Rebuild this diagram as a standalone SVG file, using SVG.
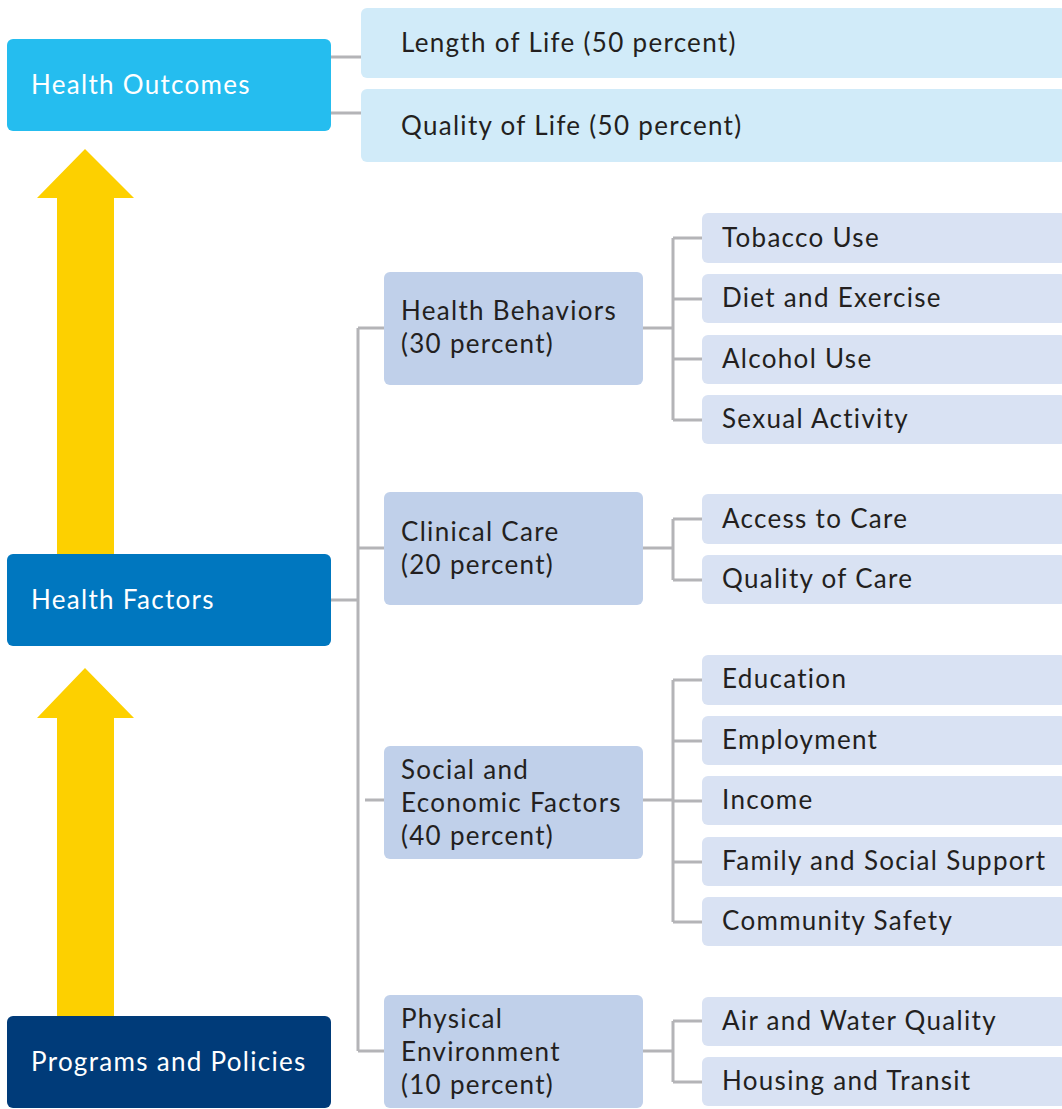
<svg xmlns="http://www.w3.org/2000/svg" width="1062" height="1109" viewBox="0 0 1062 1109">
<style>
text{font-family:Lato,"Open Sans","Liberation Sans",sans-serif;font-size:26px;letter-spacing:1.3px;fill:#231F20}
.w{fill:#ffffff}
.c{fill:none;stroke:#B4B4B7;stroke-width:3}
.top{fill:#D1EBF9}
.mid{fill:#C0D0EA}
.leaf{fill:#D9E2F3}
.arr{fill:#FDD000}
</style>
<rect width="1062" height="1109" fill="#ffffff"/>
<g id="arrows">
<polygon class="arr" points="85,149 134,198 114,198 114,554 57,554 57,198 37,198"/>
<polygon class="arr" points="85,668 134,718 114,718 114,1016 57,1016 57,718 37,718"/>
</g>
<g id="connectors">
<path class="c" d="M331,57H361M331,113H361"/>
<path class="c" d="M331,600H358M358,328V1051M358,328H384M358,548H384M365,800H384M358,1051H384"/>
<path class="c" d="M643,328H673M673,238V420M673,238H702M673,299H702M673,359H702M673,420H702"/>
<path class="c" d="M643,548H673M673,519V580M673,519H702M673,580H702"/>
<path class="c" d="M643,800H673M673,680V922M673,680H702M673,741H702M673,801H702M673,862H702M673,922H702"/>
<path class="c" d="M643,1051H673M673,1021V1082M673,1021H702M673,1082H702"/>
</g>
<g id="health-outcomes"><rect x="7" y="39" width="324" height="92" rx="6" fill="#25BDEF"/><text class="w" x="31" y="94">Health Outcomes</text></g>
<g id="health-factors"><rect x="7" y="554" width="324" height="92" rx="6" fill="#0077BF"/><text class="w" x="31" y="609">Health Factors</text></g>
<g id="programs-policies"><rect x="7" y="1016" width="324" height="92" rx="6" fill="#003B79"/><text class="w" x="31" y="1071">Programs and Policies</text></g>
<g id="length-of-life"><rect class="top" x="361" y="8" width="705" height="70" rx="6"/><text x="401" y="52">Length of Life (50 percent)</text></g>
<g id="quality-of-life"><rect class="top" x="361" y="89" width="705" height="73" rx="6"/><text x="401" y="135">Quality of Life (50 percent)</text></g>
<g id="health-behaviors"><rect class="mid" x="384" y="272" width="259" height="113" rx="6"/><text x="401" y="320">Health Behaviors</text><text x="401" y="353">(30 percent)</text></g>
<g id="clinical-care"><rect class="mid" x="384" y="492" width="259" height="113" rx="6"/><text x="401" y="541">Clinical Care</text><text x="401" y="574">(20 percent)</text></g>
<g id="social-economic"><rect class="mid" x="384" y="746" width="259" height="113" rx="6"/><text x="401" y="779">Social and</text><text x="401" y="812">Economic Factors</text><text x="401" y="845">(40 percent)</text></g>
<g id="physical-environment"><rect class="mid" x="384" y="995" width="259" height="113" rx="6"/><text x="401" y="1028">Physical</text><text x="401" y="1061">Environment</text><text x="401" y="1094">(10 percent)</text></g>
<g id="tobacco"><rect class="leaf" x="702" y="213" width="364" height="50" rx="6"/><text x="722" y="247">Tobacco Use</text></g>
<g id="diet"><rect class="leaf" x="702" y="274" width="364" height="49" rx="6"/><text x="722" y="307">Diet and Exercise</text></g>
<g id="alcohol"><rect class="leaf" x="702" y="335" width="364" height="49" rx="6"/><text x="722" y="368">Alcohol Use</text></g>
<g id="sexual"><rect class="leaf" x="702" y="395" width="364" height="49" rx="6"/><text x="722" y="428">Sexual Activity</text></g>
<g id="access"><rect class="leaf" x="702" y="494" width="364" height="50" rx="6"/><text x="722" y="528">Access to Care</text></g>
<g id="quality-care"><rect class="leaf" x="702" y="555" width="364" height="49" rx="6"/><text x="722" y="588">Quality of Care</text></g>
<g id="education"><rect class="leaf" x="702" y="655" width="364" height="50" rx="6"/><text x="722" y="688">Education</text></g>
<g id="employment"><rect class="leaf" x="702" y="716" width="364" height="49" rx="6"/><text x="722" y="749">Employment</text></g>
<g id="income"><rect class="leaf" x="702" y="776" width="364" height="49" rx="6"/><text x="722" y="809">Income</text></g>
<g id="family"><rect class="leaf" x="702" y="837" width="364" height="49" rx="6"/><text x="722" y="870">Family and Social Support</text></g>
<g id="community"><rect class="leaf" x="702" y="897" width="364" height="49" rx="6"/><text x="722" y="930">Community Safety</text></g>
<g id="air-water"><rect class="leaf" x="702" y="997" width="364" height="49" rx="6"/><text x="722" y="1030">Air and Water Quality</text></g>
<g id="housing"><rect class="leaf" x="702" y="1057" width="364" height="49" rx="6"/><text x="722" y="1090">Housing and Transit</text></g>
</svg>
